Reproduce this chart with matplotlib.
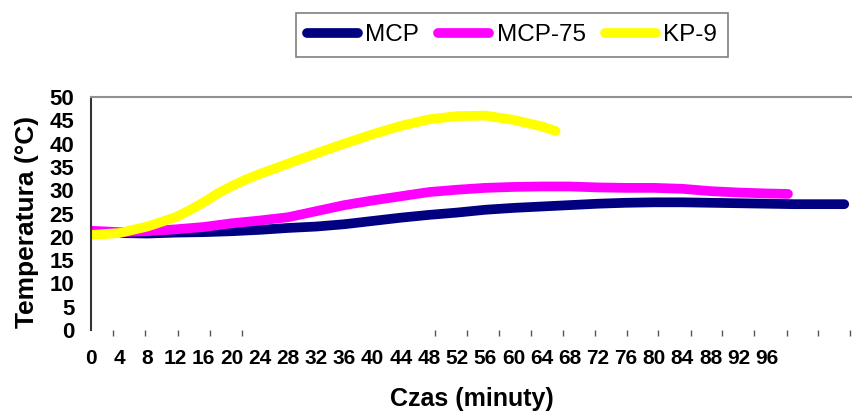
"""
Wykres temperatury w czasie dla trzech próbek (MCP, MCP-75, KP-9).
"""
import matplotlib.pyplot as plt

plt.rcParams['font.family'] = ['Liberation Sans', 'DejaVu Sans']

# Dane: czas (minuty) i temperatura (°C)
czas_mcp = [0, 4, 8, 12, 16, 20, 24, 28, 32, 36, 40, 44, 48, 52, 56, 60,
            64, 68, 72, 76, 80, 84, 88, 92, 96, 100, 104, 107]
temp_mcp = [21.0, 20.8, 20.7, 20.9, 21.0, 21.2, 21.5, 21.9, 22.2, 22.7, 23.4,
            24.1, 24.7, 25.2, 25.8, 26.2, 26.5, 26.8, 27.1, 27.3, 27.4, 27.4,
            27.3, 27.2, 27.1, 27.0, 27.0, 27.0]

czas_mcp75 = [0, 4, 8, 12, 16, 20, 24, 28, 32, 36, 40, 44, 48, 52, 56, 60,
              64, 68, 72, 76, 80, 84, 88, 92, 96, 99]
temp_mcp75 = [21.3, 21.0, 21.2, 21.6, 22.1, 22.9, 23.5, 24.2, 25.5, 26.8, 27.8,
              28.7, 29.6, 30.1, 30.5, 30.7, 30.8, 30.8, 30.6, 30.5, 30.5, 30.3,
              29.8, 29.5, 29.3, 29.2]

czas_kp9 = [0, 4, 8, 12, 14, 16, 18, 20, 22, 24, 26, 28, 30, 32, 36, 40, 44,
            48, 52, 56, 60, 64, 66]
temp_kp9 = [20.4, 20.8, 22.2, 24.2, 25.7, 27.4, 29.3, 30.9, 32.3, 33.5, 34.6,
            35.7, 36.8, 37.9, 40.0, 42.0, 43.8, 45.2, 45.9, 46.0, 45.1, 43.7, 42.7]

serie = ['MCP', 'MCP-75', 'KP-9']
kolory = ['#000080', '#FF00FF', '#FFFF00']

# Etykiety osi
etykiety_x = list(range(0, 97, 4))
kreski_x = [3.1, 7.7, 12.3, 16.9, 21.4, 48.9, 53.4, 57.9, 62.5, 67.0, 71.6,
            76.1, 80.6, 85.2, 89.7, 94.2, 98.8, 103.3, 107.8]
etykiety_y = list(range(0, 51, 5))
linie_siatki = [5, 20, 25, 30, 35, 45, 50]

fig = plt.figure(figsize=(8.52, 4.12), dpi=100)
ax = fig.add_axes([91 / 852, 82 / 412, 761 / 852, 233 / 412])

dane = [(czas_mcp, temp_mcp), (czas_mcp75, temp_mcp75), (czas_kp9, temp_kp9)]
for (x, y), nazwa, kolor in zip(dane, serie, kolory):
    ax.plot(x, y, color=kolor, lw=7, label=nazwa,
            solid_capstyle='round', solid_joinstyle='round')

ax.set_xlim(0, 108.1)
ax.set_ylim(0, 50)

# Oś Y
ax.set_yticks(etykiety_y)
ax.set_yticklabels([str(v) for v in etykiety_y], fontsize=16, fontweight='bold')
ax.set_yticks(linie_siatki, minor=True)
ax.tick_params(axis='y', which='major', length=0, pad=12)
ax.tick_params(axis='y', which='minor', length=6.5, width=1, color='#333333')
ax.grid(axis='y', which='minor', color='#222222', lw=1)

# Oś X
ax.set_xticks(etykiety_x)
ax.set_xticklabels([str(v) for v in etykiety_x], fontsize=15, fontweight='bold')
ax.set_xticks(kreski_x, minor=True)
ax.tick_params(axis='x', which='major', length=0, pad=14)
ax.tick_params(axis='x', which='minor', length=4, width=1, color='#555555')

ax.spines['right'].set_visible(False)
ax.spines['bottom'].set_visible(False)
ax.spines['top'].set_color('#909090')
ax.spines['top'].set_linewidth(1.5)
ax.spines['left'].set_color('#333333')
ax.spines['left'].set_linewidth(1.5)

ax.set_ylabel('Temperatura (°C)', fontsize=19, fontweight='bold')
ax.yaxis.set_label_coords(-0.068, 0.464)
ax.set_xlabel('Czas (minuty)', fontsize=18, fontweight='bold')
ax.xaxis.set_label_coords(0.5, -0.243)

leg = fig.legend(loc='center', bbox_to_anchor=(0.601, 0.915), ncol=3,
                 fontsize=17.5, frameon=True, fancybox=False, edgecolor='#808080',
                 framealpha=1, handlelength=2.1, handletextpad=0.3,
                 columnspacing=0.8, borderpad=0.45)
leg.get_frame().set_linewidth(1.2)

fig.savefig('out.png', dpi=100)
